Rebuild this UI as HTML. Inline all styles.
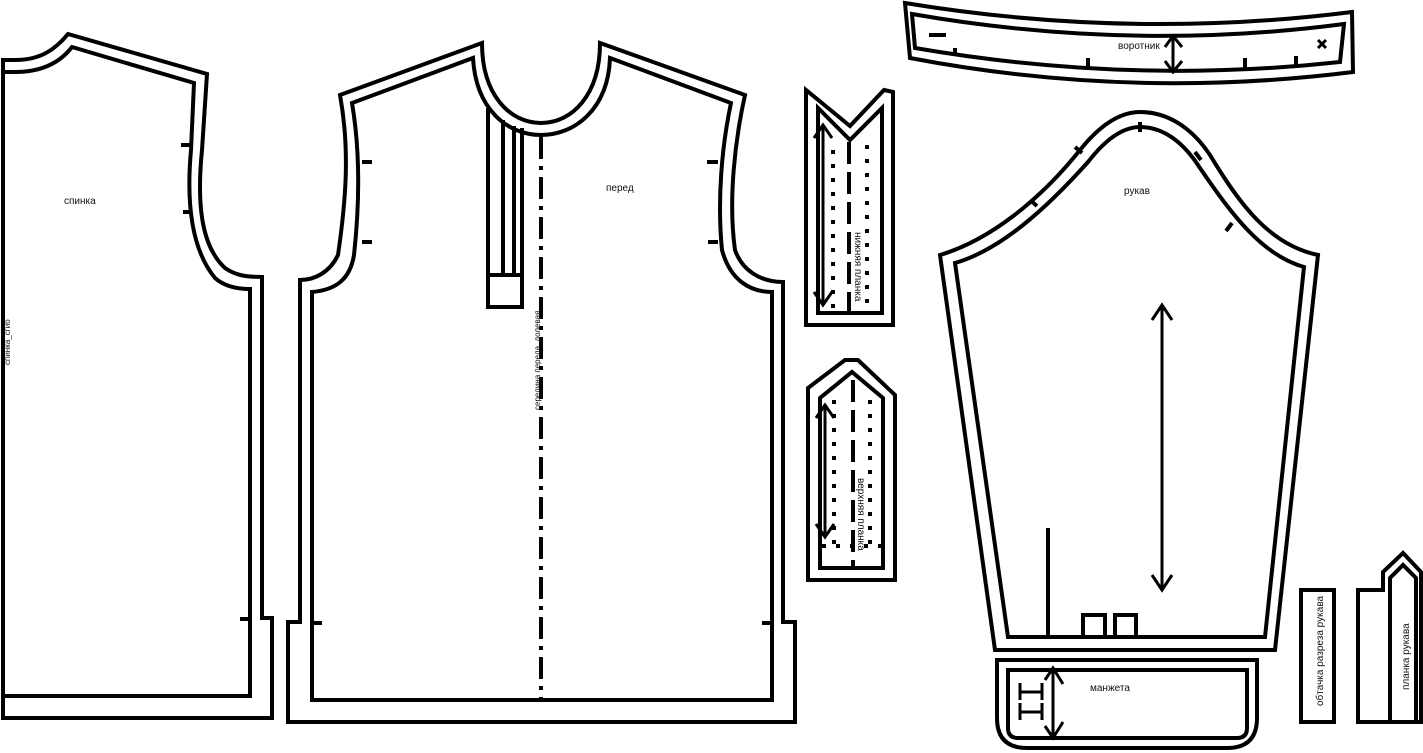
<!DOCTYPE html>
<html><head><meta charset="utf-8"><style>
html,body{margin:0;padding:0;background:#fff;}
svg{display:block}
text{font-family:"Liberation Sans",sans-serif;fill:#111;}
</style></head><body>
<svg width="1423" height="753" viewBox="0 0 1423 753" xmlns="http://www.w3.org/2000/svg">
<g fill="none" stroke="#000" stroke-width="4" stroke-linejoin="miter">
<!-- back -->
<path d="M3,60 L15,60 C40,60 55,50 68,34 L207,74 L202,150 C197,200 200,245 225,268 C235,275 245,277 262,277 L262,618 L272,618 L272,718 L3,718 Z"/>
<path d="M3,72 L15,72 C45,72 62,60 72,47 L194,83 L191,150 C186,205 192,250 215,278 C225,287 238,289 250,289 L250,696 L3,696"/>
<line x1="181" y1="145" x2="191" y2="145"/><line x1="183" y1="212" x2="191" y2="212"/><line x1="240" y1="619" x2="250" y2="619"/>
<!-- front -->
<path d="M340,95 L482,43 C482,95 510,123 541,123 C572,123 600,95 600,43 L745,95 C735,140 728,200 735,250 C742,270 760,282 783,282 L783,622 L795,622 L795,722 L288,722 L288,622 L300,622 L300,280 C315,280 330,272 338,255 C346,200 350,150 340,95 Z"/>
<path d="M352,103 L473,58 C476,110 508,135 541,135 C574,135 608,110 610,58 L731,103 C722,145 717,200 722,250 C730,280 750,292 772,292 L772,700 L312,700 L312,292 C335,290 350,280 354,255 C360,200 360,150 352,103 Z"/>
<path d="M488,108 V307 H522 V128 M503,120 V275 M514,126 V275 M488,275 H522"/>
<line x1="541" y1="137" x2="541" y2="700" stroke-dasharray="22,7,4,7"/>
<line x1="362" y1="162" x2="372" y2="162"/><line x1="362" y1="242" x2="372" y2="242"/><line x1="707" y1="162" x2="718" y2="162"/><line x1="708" y1="242" x2="718" y2="242"/>
<line x1="312" y1="623" x2="322" y2="623"/><line x1="762" y1="623" x2="772" y2="623"/>
<!-- collar -->
<path d="M905,3 Q1130,40 1352,12 L1353,72 Q1130,100 910,58 Z"/>
<path d="M912,14 Q1130,52 1344,24 L1340,62 Q1130,85 915,48 Z"/>
<line x1="929" y1="35" x2="946" y2="35"/><line x1="955" y1="48" x2="955" y2="56"/><line x1="1088" y1="58" x2="1088" y2="69"/><line x1="1245" y1="58" x2="1245" y2="69"/><line x1="1296" y1="56" x2="1296" y2="65"/>
<path d="M1318,40 l8,8 m0,-8 l-8,8" stroke-width="3"/>
<path d="M1173,36 V72 M1165,47 L1173,36 L1182,47 M1165,61 L1173,72 L1182,61" stroke-width="3"/>
<!-- lower placket -->
<path d="M806,325 V90 L850,126 L884,90 L893,92 V325 Z"/>
<path d="M818,313 V108 L850,140 L882,108 V313 Z"/>
<line x1="849" y1="142" x2="849" y2="313" stroke-dasharray="22,8"/>
<line x1="833" y1="150" x2="833" y2="312" stroke-dasharray="4,10"/>
<line x1="867" y1="145" x2="867" y2="312" stroke-dasharray="4,10"/>
<path d="M823,125 V305 M814,138 L823,125 L832,138 M814,292 L823,305 L832,292" stroke-width="3"/>
<!-- upper placket -->
<path d="M808,580 V388 L845,360 L858,360 L895,395 V580 Z"/>
<path d="M820,568 V398 L852,372 L883,398 V568 Z"/>
<line x1="853" y1="380" x2="853" y2="568" stroke-dasharray="22,8"/>
<line x1="834" y1="400" x2="834" y2="548" stroke-dasharray="4,10"/>
<line x1="870" y1="400" x2="870" y2="548" stroke-dasharray="4,10"/>
<line x1="822" y1="546" x2="886" y2="546" stroke-dasharray="4,10"/>
<path d="M825,405 V537 M816,418 L825,405 L834,418 M816,524 L825,537 L834,524" stroke-width="3"/>
<!-- sleeve -->
<path d="M940,255 C990,240 1040,200 1080,150 C1100,125 1120,112 1140,112 C1165,112 1190,125 1210,155 C1240,205 1270,245 1318,255 L1275,650 L995,650 Z"/>
<path d="M955,263 C1000,250 1045,210 1088,162 C1105,140 1122,127 1140,127 C1162,127 1182,140 1200,168 C1232,215 1262,255 1304,267 L1265,637 L1008,637 Z"/>
<line x1="1140" y1="122" x2="1140" y2="132"/><line x1="1195" y1="152" x2="1201" y2="160"/><line x1="1226" y1="231" x2="1232" y2="223"/><line x1="1030" y1="200" x2="1037" y2="206"/><line x1="1075" y1="147" x2="1082" y2="153"/>
<line x1="1048" y1="528" x2="1048" y2="637"/>
<path d="M1083,637 V615 H1105 V637 M1115,637 V615 H1136 V637"/>
<path d="M1162,305 V590 M1152,320 L1162,305 L1172,320 M1152,575 L1162,590 L1172,575" stroke-width="3"/>
<!-- cuff -->
<path d="M997,660 H1257 V718 Q1257,748 1227,748 H1027 Q997,748 997,718 Z"/>
<path d="M1008,670 H1247 V728 Q1247,738 1237,738 H1018 Q1008,738 1008,728 Z"/>
<path d="M1053,668 V738 M1045,680 L1053,668 L1063,684 M1045,726 L1053,738 L1063,722" stroke-width="3"/>
<path d="M1020,683 V700 M1020,703 V720 M1020,692 H1042 M1020,712 H1042 M1042,683 V700 M1042,703 V720" stroke-width="3"/>
<!-- strips -->
<rect x="1301" y="590" width="33" height="132"/>
<path d="M1358,722 V590 L1383,590 V572 L1403,553 L1421,572 V722 Z"/>
<path d="M1390,722 V578 L1403,565 L1416,578 V722"/>
</g>
<text x="64" y="204" font-size="10">спинка</text>
<text x="606" y="191" font-size="10">перед</text>
<text x="1118" y="49" font-size="10">воротник</text>
<text x="1124" y="194" font-size="10">рукав</text>
<text x="1090" y="691" font-size="10">манжета</text>
<text transform="translate(10,365) rotate(-90)" font-size="8">спинка_сгиб</text>
<text transform="translate(540,410) rotate(-90)" font-size="8">середина переда_долевая</text>
<text transform="translate(855,232) rotate(90)" font-size="10">нижняя планка</text>
<text transform="translate(858,478) rotate(90)" font-size="10">верхняя планка</text>
<text transform="translate(1323,706) rotate(-90)" font-size="10">обтачка разреза рукава</text>
<text transform="translate(1409,690) rotate(-90)" font-size="10">планка рукава</text>
</svg>
</body></html>
